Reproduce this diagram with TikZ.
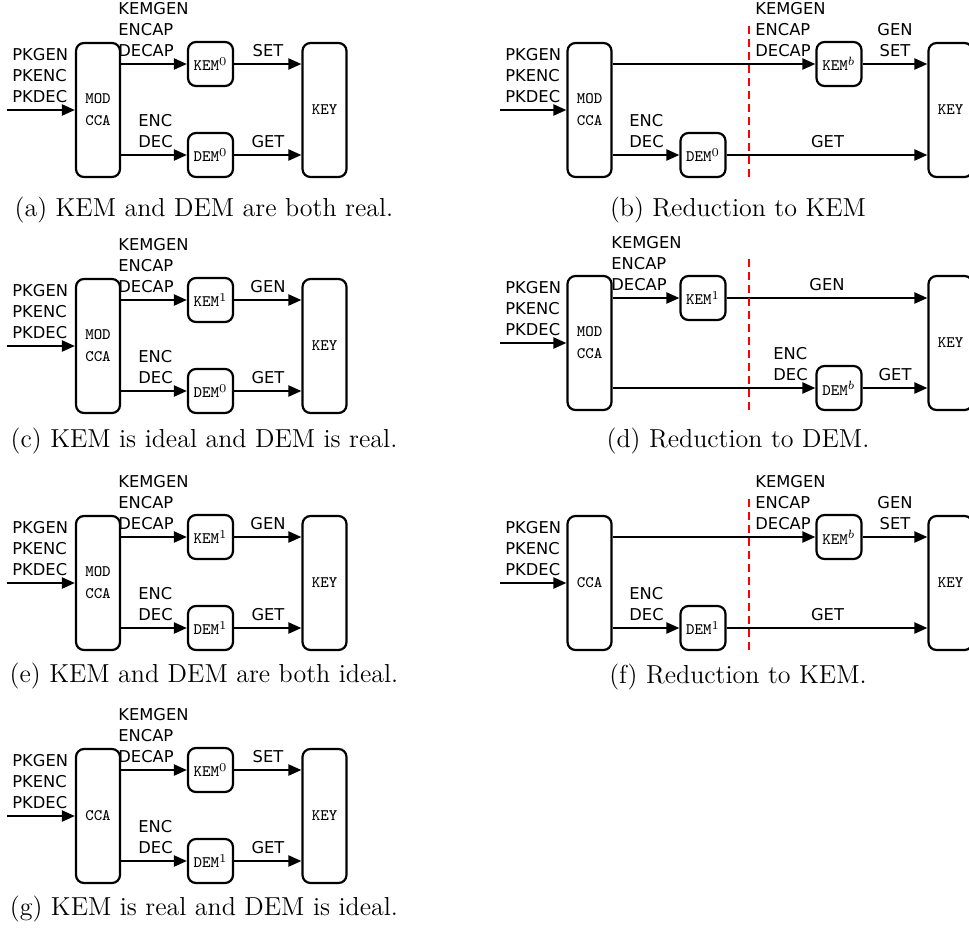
\documentclass[tikz,border=0pt]{standalone}
\usepackage{fontspec}
\newfontfamily\lblfont{DejaVu Sans}
\usetikzlibrary{arrows.meta}
\tikzset{
  box/.style={draw, line width=1.1pt, rounded corners=4pt, inner sep=0pt, align=center,
    font=\ttfamily\fontsize{8}{11}\selectfont},
  bigbox/.style={box, minimum width=22pt, minimum height=67pt},
  smallbox/.style={box, minimum width=22.5pt, minimum height=22pt},
  lbl/.style={inner sep=0pt, align=left, font=\lblfont\fontsize{8.15}{10.4}\selectfont},
  lblc/.style={lbl, align=center},
  arr/.style={line width=1.1pt, -{Triangle[length=6.5pt,width=5.5pt]}},
  sepline/.style={red, line width=1.2pt, dash pattern=on 4pt off 2.5pt},
  captxt/.style={inner sep=0pt, anchor=base, font=\fontsize{13}{15}\selectfont},
}
% left-type panel: #1 prefix, #2 centre y, #3 box text, #4 KEM sup, #5 DEM sup, #6 label KEM->KEY
\newcommand{\LeftPanel}[6]{%
  \node[bigbox] (#1mod) at (98,#2) {#3};
  \node[smallbox] (#1kem) at (210.5,{#2-46}) {KEM$^{#4}$};
  \node[smallbox] (#1dem) at (210.5,{#2+45}) {DEM$^{#5}$};
  \node[bigbox] (#1key) at (324.5,#2) {KEY};
  \coordinate (#1in) at (7,#2);
  \draw[arr] (#1in) -- (#1mod.west |- #1in);
  \draw[arr] (#1mod.east |- #1kem) -- (#1kem);
  \draw[arr] (#1kem) -- (#1key.west |- #1kem);
  \draw[arr] (#1mod.east |- #1dem) -- (#1dem);
  \draw[arr] (#1dem) -- (#1key.west |- #1dem);
  \node[lbl, anchor=south west] (#1pk) at (12,{#2-7}) {PKGEN\\PKENC\\PKDEC};
  \node[lbl, anchor=south west] (#1kl) at (118,{#2-53}) {KEMGEN\\ENCAP\\DECAP};
  \node[lbl, anchor=south west] (#1dl) at (138,{#2+38}) {ENC\\DEC};
  \node[lblc, anchor=south] (#1sl) at (268,{#2-53}) {#6};
  \node[lblc, anchor=south] (#1gl) at (268,{#2+38}) {GET};
}
% right-type panel (reduction to KEM): #1 prefix, #2 centre y, #3 box text, #4 DEM sup
\newcommand{\RightKem}[4]{%
  \node[bigbox] (#1mod) at (589.5,#2) {#3};
  \node[smallbox] (#1kem) at (839,{#2-46}) {KEM$^{b}$};
  \node[smallbox] (#1dem) at (703,{#2+45}) {DEM$^{#4}$};
  \node[bigbox] (#1key) at (950.5,#2) {KEY};
  \coordinate (#1in) at (500,#2);
  \draw[arr] (#1in) -- (#1mod.west |- #1in);
  \draw[arr] (#1mod.east |- #1kem) -- (#1kem);
  \draw[arr] (#1kem) -- (#1key.west |- #1kem);
  \draw[arr] (#1mod.east |- #1dem) -- (#1dem);
  \draw[arr] (#1dem) -- (#1key.west |- #1dem);
  \node[lbl, anchor=south west] (#1pk) at (505,{#2-7}) {PKGEN\\PKENC\\PKDEC};
  \node[lbl, anchor=south west] (#1kl) at (755,{#2-53}) {KEMGEN\\ENCAP\\DECAP};
  \node[lblc, anchor=south] (#1sl) at (895,{#2-53}) {GEN\\SET};
  \node[lbl, anchor=south west] (#1dl) at (629,{#2+38}) {ENC\\DEC};
  \node[lblc, anchor=south] (#1gl) at (827.5,{#2+38}) {GET};
  \coordinate (#1rt) at (749,{#2-84});
  \coordinate (#1rb) at (749,{#2+68});
  \draw[sepline] (#1rt) -- (#1rb);
}
\begin{document}
\begin{tikzpicture}[x=0.5pt,y=-0.5pt]
  \path[use as bounding box, clip] (0,0) rectangle (969,933);

  % (a)
  \LeftPanel{a}{110}{MOD\\CCA}{0}{0}{SET}
  \node[captxt] (capa) at (204,216) {(a) KEM and DEM are both real.};

  % (b)
  \RightKem{b}{110}{MOD\\CCA}{0}
  \node[captxt] (capb) at (738,216) {(b) Reduction to KEM};

  % (c)
  \LeftPanel{c}{346}{MOD\\CCA}{1}{0}{GEN}
  \node[captxt] (capc) at (204,447) {(c) KEM is ideal and DEM is real.};

  % (d)
  \node[bigbox] (dmod) at (589.5,343) {MOD\\CCA};
  \node[smallbox] (dkem) at (703,298) {KEM$^{1}$};
  \node[smallbox] (ddem) at (839,388) {DEM$^{b}$};
  \node[bigbox] (dkey) at (950.5,343) {KEY};
  \coordinate (din) at (500,343);
  \draw[arr] (din) -- (dmod.west |- din);
  \draw[arr] (dmod.east |- dkem) -- (dkem);
  \draw[arr] (dkem) -- (dkey.west |- dkem);
  \draw[arr] (dmod.east |- ddem) -- (ddem);
  \draw[arr] (ddem) -- (dkey.west |- ddem);
  \node[lbl, anchor=south west] (dpk) at (505,336) {PKGEN\\PKENC\\PKDEC};
  \node[lbl, anchor=south west] (dkl) at (611,291) {KEMGEN\\ENCAP\\DECAP};
  \node[lblc, anchor=south] (dsl) at (827,291) {GEN};
  \node[lbl, anchor=south west] (ddl) at (773,381) {ENC\\DEC};
  \node[lblc, anchor=south] (dgl) at (895,381) {GET};
  \coordinate (drt) at (749,259);
  \coordinate (drb) at (749,411);
  \draw[sepline] (drt) -- (drb);
  \node[captxt] (capd) at (738,447) {(d) Reduction to DEM.};

  % (e)
  \LeftPanel{e}{583}{MOD\\CCA}{1}{1}{GEN}
  \node[captxt] (cape) at (204,682) {(e) KEM and DEM are both ideal.};

  % (f)
  \RightKem{f}{583}{CCA}{1}
  \node[captxt] (capf) at (738,683) {(f) Reduction to KEM.};

  % (g)
  \LeftPanel{g}{816}{CCA}{0}{1}{SET}
  \node[captxt] (capg) at (204,915) {(g) KEM is real and DEM is ideal.};
\end{tikzpicture}
\end{document}
